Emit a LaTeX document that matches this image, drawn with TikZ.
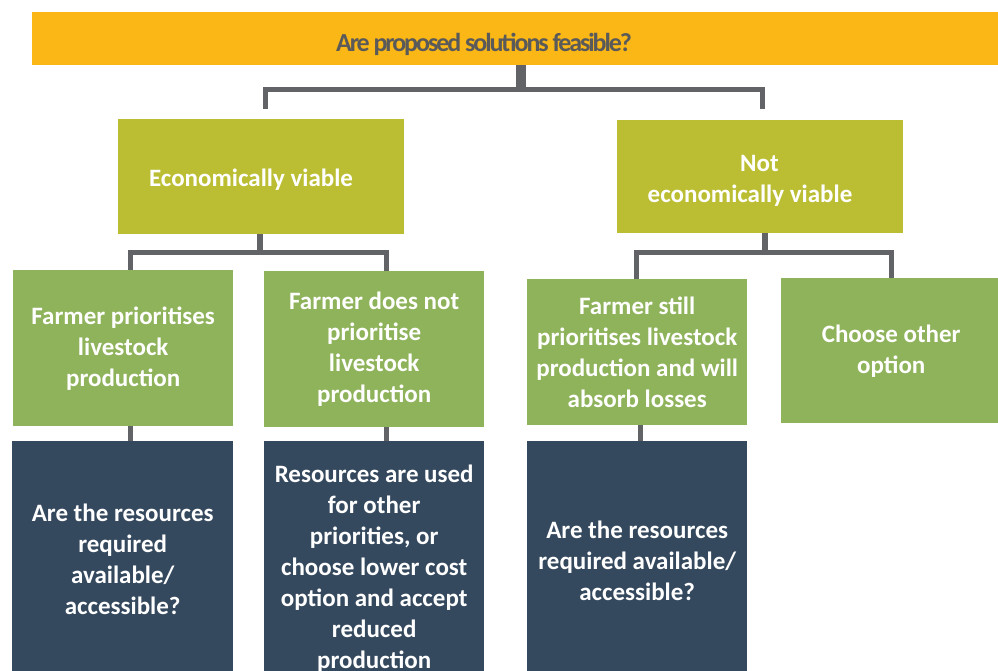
\documentclass[tikz,border=0pt]{standalone}
\usepackage{fontspec}
\setmainfont{Carlito}
\newfontfamily\titlefont{Carlito}[LetterSpace=-8]
\definecolor{qorange}{HTML}{FBB715}
\definecolor{olive}{HTML}{BBBE33}
\definecolor{leaf}{HTML}{8FB35B}
\definecolor{navy}{HTML}{35495E}
\definecolor{linkgray}{HTML}{626367}
\definecolor{titlegray}{HTML}{5A5A5A}
\tikzset{
  panel/.style={rectangle, anchor=north west, inner sep=0pt},
  boxfont/.style={text=white, font=\bfseries\fontsize{25}{31}\selectfont},
  box/.style={panel, align=center, boxfont},
  levelone/.style={panel, fill=olive},
  leveltwo/.style={box, fill=leaf},
  levelthree/.style={box, fill=navy},
  label/.style={inner sep=0pt, align=center, boxfont},
  conn/.style={draw=linkgray, line width=5pt, line join=miter},
  stub/.style={draw=linkgray, line width=6.7pt},
  bigstub/.style={draw=linkgray, line width=10pt}
}
\begin{document}
\begin{tikzpicture}[x=1pt,y=-1pt]
\useasboundingbox (0,0) rectangle (998,671);
\clip (0,0) rectangle (998,671);

% question bar
\node[panel, fill=qorange, minimum width=990pt, minimum height=52.5pt] (q) at (32,12) {};
\node[anchor=base, text=titlegray, inner sep=0pt,
  font=\titlefont\bfseries\fontsize{26}{30}\selectfont]
  (qt) at (484,52) {Are proposed solutions feasible?};

% first level
\node[levelone, minimum width=286pt, minimum height=115pt] (econ) at (118,119) {};
\node[label] (econt) at (251,179.5) {Economically viable};
\node[levelone, minimum width=286pt, minimum height=113pt] (nonecon) at (617,120) {};
\node[label] (nonecont) at (750,180.5) {\hspace*{19pt}Not\\economically viable};

% second level
\node[leveltwo, minimum width=220pt, minimum height=156pt] (fp) at (13,270)
  {Farmer prioritises\\livestock\\production};
\node[leveltwo, minimum width=220pt, minimum height=156pt] (fnp) at (264,271)
  {Farmer does not\\prioritise\\livestock\\production};
\node[leveltwo, minimum width=220pt, minimum height=146pt] (fs) at (527,279)
  {Farmer still\\prioritises livestock\\production and will\\absorb losses};
\node[leveltwo, minimum width=220pt, minimum height=145pt] (co) at (781,278)
  {Choose other\\option};

% third level
\node[levelthree, minimum width=221pt, minimum height=236pt] (qa) at (12,441)
  {Are the resources\\required\\available/\\accessible?};
\node[levelthree, minimum width=220pt, minimum height=254pt] (ru) at (264,441)
  {Resources are used\\for other\\priorities, or\\choose lower cost\\option and accept\\reduced\\production};
\node[levelthree, minimum width=220pt, minimum height=239pt] (qb) at (527,441)
  {Are the resources\\required available/\\accessible?};

% joints of the connector tree
\coordinate (t0) at (521,90);
\coordinate (tl) at (265,90);
\coordinate (tr) at (762,90);
\coordinate (tle) at (265,109);
\coordinate (tre) at (762,109);
\coordinate (ej) at (260,252);
\coordinate (el) at (130,252);
\coordinate (er) at (386,252);
\coordinate (nj) at (765,252);
\coordinate (nl) at (636,252);
\coordinate (nr) at (891,252);
\coordinate (c3) at (640,0);

% top split
\draw[bigstub] (q.south -| t0) -- (t0);
\draw[conn] (tle) -- (tl) -- (tr) -- (tre);

% split under the viable branch
\draw[stub] (econ.south -| ej) -- (ej);
\draw[conn] (fp.north -| el) -- (el) -- (er) -- (fnp.north -| er);

% split under the non-viable branch
\draw[stub] (nonecon.south -| nj) -- (nj);
\draw[conn] (fs.north -| nl) -- (nl) -- (nr) -- (co.north -| nr);

% links to the bottom row
\draw[conn] (fp.south -| el) -- (qa.north -| el);
\draw[conn] (fnp.south -| er) -- (ru.north -| er);
\draw[conn] (fs.south -| c3) -- (qb.north -| c3);
\end{tikzpicture}
\end{document}
